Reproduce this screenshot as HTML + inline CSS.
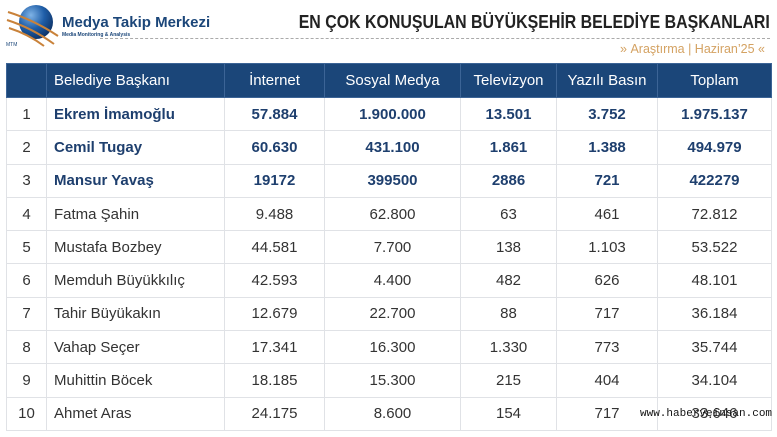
<!DOCTYPE html>
<html><head><meta charset="utf-8"><style>
*{margin:0;padding:0;box-sizing:border-box}
body{width:777px;height:437px;background:#fff;position:relative;overflow:hidden;font-family:"Liberation Sans",sans-serif}
.abs{position:absolute}
table{position:absolute;left:6px;top:63px;border-collapse:collapse;table-layout:fixed}
td,th{border:1px solid #e0e2e6;text-align:center;font-size:15px;color:#333;height:33.3px;padding:0;white-space:nowrap}
th{background:#1b4679;color:#fff;font-weight:normal;border:1px solid #3c6496;height:34px}
td.n{text-align:left;padding-left:7px}
tr.b td{color:#1e3f6e;font-weight:bold}
tr.b td:first-child{font-weight:normal;color:#333}
</style></head><body>
<svg class="abs" style="left:4px;top:2px" width="58" height="46" viewBox="0 0 58 46">
<defs><radialGradient id="g" cx="0.35" cy="0.3" r="0.8"><stop offset="0" stop-color="#7fb3e6"/><stop offset="0.5" stop-color="#1f5ea8"/><stop offset="1" stop-color="#0b2c5c"/></radialGradient></defs>
<circle cx="32" cy="20" r="17" fill="url(#g)"/>
<g fill="none" stroke="#c9823a" stroke-width="2">
<path d="M4 10 Q30 18 54 34"/><path d="M3 18 Q28 26 50 42"/><path d="M5 26 Q24 32 40 44"/></g>
<text x="2" y="44" font-size="5" fill="#1b4679" font-family="Liberation Sans">MTM</text>
</svg>
<div class="abs" style="left:62px;top:14px;font-size:15px;font-weight:bold;color:#1b4679;white-space:nowrap">Medya Takip Merkezi</div>
<div class="abs" style="left:62px;top:32px;font-size:5px;font-weight:bold;color:#1b4679;white-space:nowrap">Media Monitoring &amp; Analysis</div>
<div class="abs" style="left:100px;top:38px;width:670px;border-top:1px dashed #aaa"></div>
<div class="abs" style="right:7px;top:11px;font-size:18.5px;font-weight:bold;color:#222;white-space:nowrap;transform:scaleX(0.86);transform-origin:right top">EN ÇOK KONUŞULAN BÜYÜKŞEHİR BELEDİYE BAŞKANLARI</div>
<div class="abs" style="right:12px;top:42px;font-size:12.5px;color:#d4a262;white-space:nowrap">»&nbsp;Araştırma | Haziran’25 «</div>
<table>
<colgroup><col style="width:40px"><col style="width:178px"><col style="width:100px"><col style="width:136px"><col style="width:96px"><col style="width:101px"><col style="width:114px"></colgroup>
<tr><th></th><th style="text-align:left;padding-left:7px">Belediye Başkanı</th><th>İnternet</th><th>Sosyal Medya</th><th>Televizyon</th><th>Yazılı Basın</th><th>Toplam</th></tr>
<tr class="b"><td>1</td><td class="n">Ekrem İmamoğlu</td><td>57.884</td><td>1.900.000</td><td>13.501</td><td>3.752</td><td>1.975.137</td></tr>
<tr class="b"><td>2</td><td class="n">Cemil Tugay</td><td>60.630</td><td>431.100</td><td>1.861</td><td>1.388</td><td>494.979</td></tr>
<tr class="b"><td>3</td><td class="n">Mansur Yavaş</td><td>19172</td><td>399500</td><td>2886</td><td>721</td><td>422279</td></tr>
<tr><td>4</td><td class="n">Fatma Şahin</td><td>9.488</td><td>62.800</td><td>63</td><td>461</td><td>72.812</td></tr>
<tr><td>5</td><td class="n">Mustafa Bozbey</td><td>44.581</td><td>7.700</td><td>138</td><td>1.103</td><td>53.522</td></tr>
<tr><td>6</td><td class="n">Memduh Büyükkılıç</td><td>42.593</td><td>4.400</td><td>482</td><td>626</td><td>48.101</td></tr>
<tr><td>7</td><td class="n">Tahir Büyükakın</td><td>12.679</td><td>22.700</td><td>88</td><td>717</td><td>36.184</td></tr>
<tr><td>8</td><td class="n">Vahap Seçer</td><td>17.341</td><td>16.300</td><td>1.330</td><td>773</td><td>35.744</td></tr>
<tr><td>9</td><td class="n">Muhittin Böcek</td><td>18.185</td><td>15.300</td><td>215</td><td>404</td><td>34.104</td></tr>
<tr><td>10</td><td class="n">Ahmet Aras</td><td>24.175</td><td>8.600</td><td>154</td><td>717</td><td>33.646</td></tr>
</table>
<div class="abs" style="left:640px;top:408px;font-size:11px;font-family:'Liberation Mono',monospace;color:#111;white-space:nowrap">www.haberveinsan.com</div>
</body></html>
